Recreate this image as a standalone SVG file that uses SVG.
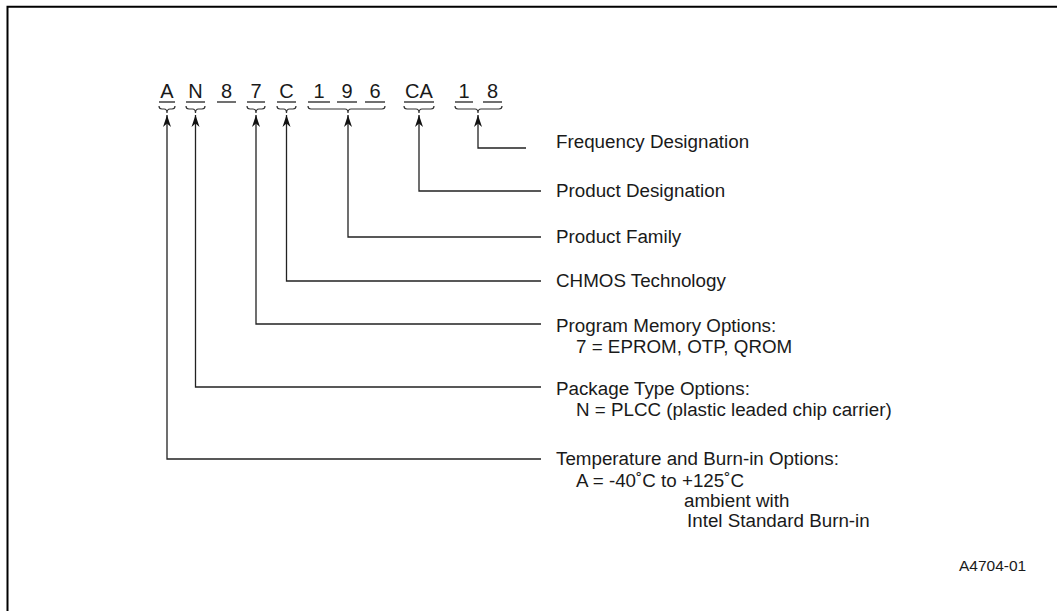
<svg xmlns="http://www.w3.org/2000/svg" width="1057" height="611" viewBox="0 0 1057 611">
<style>
.code{font-family:"Liberation Sans",Arial,sans-serif;font-size:20px;fill:#1a1a1a;text-anchor:middle}
.lbl{font-family:"Liberation Sans",Arial,sans-serif;font-size:18.8px;fill:#1a1a1a}
.id{font-family:"Liberation Sans",Arial,sans-serif;font-size:15.5px;fill:#1a1a1a}
.ul{stroke:#333;stroke-width:1.4;fill:none}
.br{stroke:#333;stroke-width:1.2;fill:none}
.cn{stroke:#222;stroke-width:1.3;fill:none;marker-end:url(#ah)}
.frame{stroke:#000;stroke-width:2;fill:none}
</style>
<defs>
<marker id="ah" viewBox="-13 -5 13 10" refX="0" refY="0" markerWidth="13" markerHeight="10" markerUnits="userSpaceOnUse" orient="auto">
<path d="M0,0 L-12,-4 L-8.5,0 L-12,4 Z" fill="#111"/>
</marker>
</defs>
<rect width="1057" height="611" fill="#fff"/>
<path class="frame" d="M7.5,611 V6.7 H1057"/>

<g id="code-A"><text class="code" x="167" y="98">A</text><line class="ul" x1="159" y1="102" x2="175" y2="102"/><path class="br" d="M159,106 Q159,109 162,109 L164,109 Q167,109 167,113 Q167,109 170,109 L172,109 Q175,109 175,106"/></g>
<g id="code-N"><text class="code" x="195.5" y="98">N</text><line class="ul" x1="186" y1="102" x2="205" y2="102"/><path class="br" d="M186,106 Q186,109 189,109 L192.5,109 Q195.5,109 195.5,113 Q195.5,109 198.5,109 L202,109 Q205,109 205,106"/></g>
<g id="code-8"><text class="code" x="226.5" y="98">8</text><line class="ul" x1="217" y1="102" x2="236" y2="102"/></g>
<g id="code-7"><text class="code" x="256" y="98">7</text><line class="ul" x1="247" y1="102" x2="265" y2="102"/><path class="br" d="M247,106 Q247,109 250,109 L253,109 Q256,109 256,113 Q256,109 259,109 L262,109 Q265,109 265,106"/></g>
<g id="code-C"><text class="code" x="286.5" y="98">C</text><line class="ul" x1="277" y1="102" x2="296" y2="102"/><path class="br" d="M277,106 Q277,109 280,109 L283.5,109 Q286.5,109 286.5,113 Q286.5,109 289.5,109 L293,109 Q296,109 296,106"/></g>
<g id="code-196"><text class="code" x="319" y="98">1</text><text class="code" x="347" y="98">9</text><text class="code" x="375" y="98">6</text><line class="ul" x1="308" y1="102" x2="330" y2="102"/><line class="ul" x1="337" y1="102" x2="357" y2="102"/><line class="ul" x1="365" y1="102" x2="385" y2="102"/><path class="br" d="M308,106 Q308,109 311,109 L345,109 Q348,109 348,113 Q348,109 351,109 L382,109 Q385,109 385,106"/></g>
<g id="code-CA"><text class="code" x="419" y="98">CA</text><line class="ul" x1="404" y1="102" x2="434" y2="102"/><path class="br" d="M404,106 Q404,109 407,109 L416,109 Q419,109 419,113 Q419,109 422,109 L431,109 Q434,109 434,106"/></g>
<g id="code-18"><text class="code" x="464" y="98">1</text><text class="code" x="492.5" y="98">8</text><line class="ul" x1="455" y1="102" x2="473" y2="102"/><line class="ul" x1="483" y1="102" x2="502" y2="102"/><path class="br" d="M455,106 Q455,109 458,109 L475,109 Q478,109 478,113 Q478,109 481,109 L499,109 Q502,109 502,106"/></g>

<g id="connectors">
<path class="cn" d="M526,148 H478 V115"/>
<path class="cn" d="M541,191 H419 V115"/>
<path class="cn" d="M541,237 H348 V115"/>
<path class="cn" d="M541,281 H286.5 V115"/>
<path class="cn" d="M541,324 H256 V115"/>
<path class="cn" d="M541,387 H195.5 V115"/>
<path class="cn" d="M541,459 H167 V115"/>
</g>

<g id="label-frequency"><text class="lbl" x="556" y="148">Frequency Designation</text></g>
<g id="label-product-designation"><text class="lbl" x="556" y="197">Product Designation</text></g>
<g id="label-product-family"><text class="lbl" x="556" y="243">Product Family</text></g>
<g id="label-chmos"><text class="lbl" x="556" y="287">CHMOS Technology</text></g>
<g id="label-program-memory"><text class="lbl" x="556" y="332">Program Memory Options:</text><text class="lbl" x="576" y="353">7 = EPROM, OTP, QROM</text></g>
<g id="label-package"><text class="lbl" x="556" y="395">Package Type Options:</text><text class="lbl" x="576" y="416">N = PLCC (plastic leaded chip carrier)</text></g>
<g id="label-temperature"><text class="lbl" x="556" y="465">Temperature and Burn-in Options:</text><text class="lbl" x="576" y="487">A = -40˚C to +125˚C</text><text class="lbl" x="684" y="507">ambient with</text><text class="lbl" x="687" y="527">Intel Standard Burn-in</text></g>
<g id="figure-id"><text class="id" x="959" y="571">A4704-01</text></g>
</svg>
